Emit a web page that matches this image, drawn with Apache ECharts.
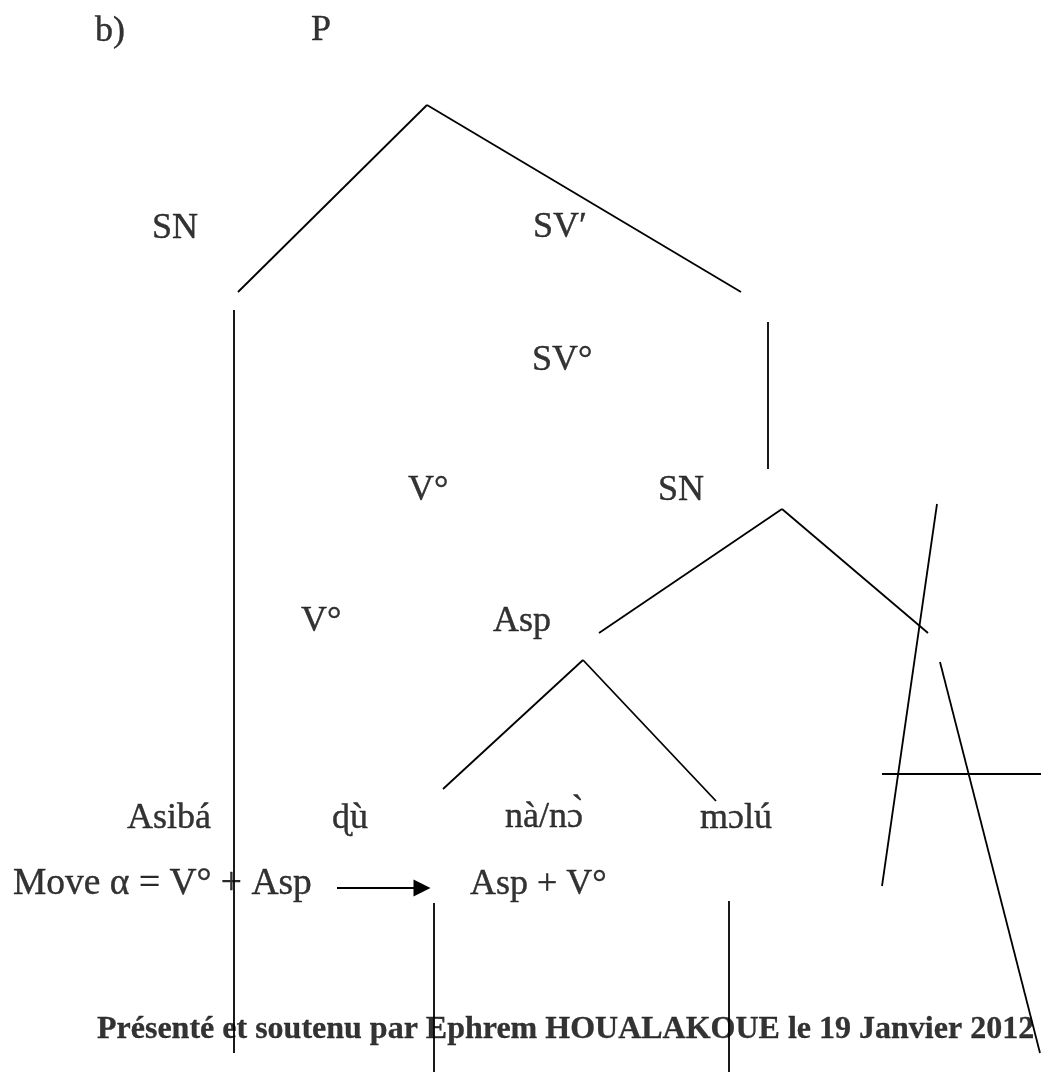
<!DOCTYPE html>
<html>
<head>
<meta charset="utf-8">
<title>Arbre syntaxique</title>
<script src="https://cdn.jsdelivr.net/npm/echarts@6/dist/echarts.min.js"></script>
<style>
  html, body { margin: 0; padding: 0; background: #fff; }
  #chart { width: 1041px; height: 1072px; }
</style>
</head>
<body>
<div id="chart"></div>
<script>
// noeuds de l'arbre (texte + position gauche / ligne de base)
const nodeTexts = ['b)', 'P', 'SN', 'SV′', 'SV°', 'V°', 'SN', 'V°', 'Asp',
  'Asibá', 'ɖù', 'nà/nɔ̀', 'mɔlú', 'Move α = V° + Asp', 'Asp + V°'];
const nodeX = [95, 311, 152, 533, 532, 408, 658, 301, 493, 127, 332, 505, 700, 13, 470];
const nodeBaseline = [42, 41, 239, 238, 371, 501, 501, 632, 632, 829, 829, 828, 829, 895, 895];

// branches (segments)
const segX1 = [427, 427, 234, 768, 782, 782, 583, 583, 937, 940, 882, 434, 729];
const segY1 = [105, 105, 310, 322, 509, 509, 660, 660, 504, 662, 774, 903, 901];
const segX2 = [238, 741, 234, 768, 599, 928, 443, 716, 882, 1040, 1041, 434, 729];
const segY2 = [292, 292, 1053, 469, 633, 633, 789, 801, 886, 1053, 774, 1072, 1072];

// flèche du mouvement
const arrowFrom = [337, 888];
const arrowTo = [422, 888];

// pied de page
const footerText = 'Présenté et soutenu par Ephrem HOUALAKOUE le 19 Janvier 2012';
const footerPos = [97, 1039];

const labelSize = 36;
const footerSize = 32;

const nodeData = nodeTexts.map((t, i) => ({
  value: [nodeX[i], nodeBaseline[i] - labelSize * 0.3],
  label: {
    formatter: t,
    // la ligne "Move" est un peu plus large dans l'original (Cambria Math)
    fontSize: t.indexOf('Move') === 0 ? 37.5 : labelSize
  }
}));

const segData = segX1.map((x, i) => ({
  coords: [[x, segY1[i]], [segX2[i], segY2[i]]]
}));

const option = {
  backgroundColor: '#fff',
  animation: false,
  grid: { left: 0, right: 0, top: 0, bottom: 0 },
  xAxis: { type: 'value', min: 0, max: 1041, show: false },
  yAxis: { type: 'value', min: 0, max: 1072, inverse: true, show: false },
  series: [
    {
      type: 'lines',
      coordinateSystem: 'cartesian2d',
      data: segData,
      silent: true,
      lineStyle: { color: '#000', width: 1.8, opacity: 1 }
    },
    {
      type: 'lines',
      coordinateSystem: 'cartesian2d',
      data: [{ coords: [arrowFrom, arrowTo] }],
      silent: true,
      symbol: ['none', 'triangle'],
      symbolSize: [12, 17],
      lineStyle: { color: '#000', width: 2, opacity: 1 },
      itemStyle: { color: '#000' }
    },
    {
      type: 'scatter',
      data: nodeData,
      symbolSize: 0,
      silent: true,
      label: {
        show: true,
        position: 'right',
        distance: 0,
        align: 'left',
        verticalAlign: 'middle',
        color: '#000',
        textBorderColor: '#000',
        textBorderWidth: 0.4,
        fontFamily: 'Liberation Serif',
        fontSize: labelSize
      }
    },
    {
      type: 'scatter',
      data: [{ value: [footerPos[0], footerPos[1] - footerSize * 0.3] }],
      symbolSize: 0,
      silent: true,
      label: {
        show: true,
        position: 'right',
        distance: 0,
        formatter: footerText,
        color: '#000',
        textBorderColor: '#000',
        textBorderWidth: 0.3,
        fontFamily: 'Liberation Serif',
        fontWeight: 'bold',
        fontSize: footerSize
      }
    }
  ]
};

const myChart = echarts.init(document.getElementById('chart'));
myChart.setOption(option);
window.addEventListener('resize', myChart.resize);
</script>
</body>
</html>
